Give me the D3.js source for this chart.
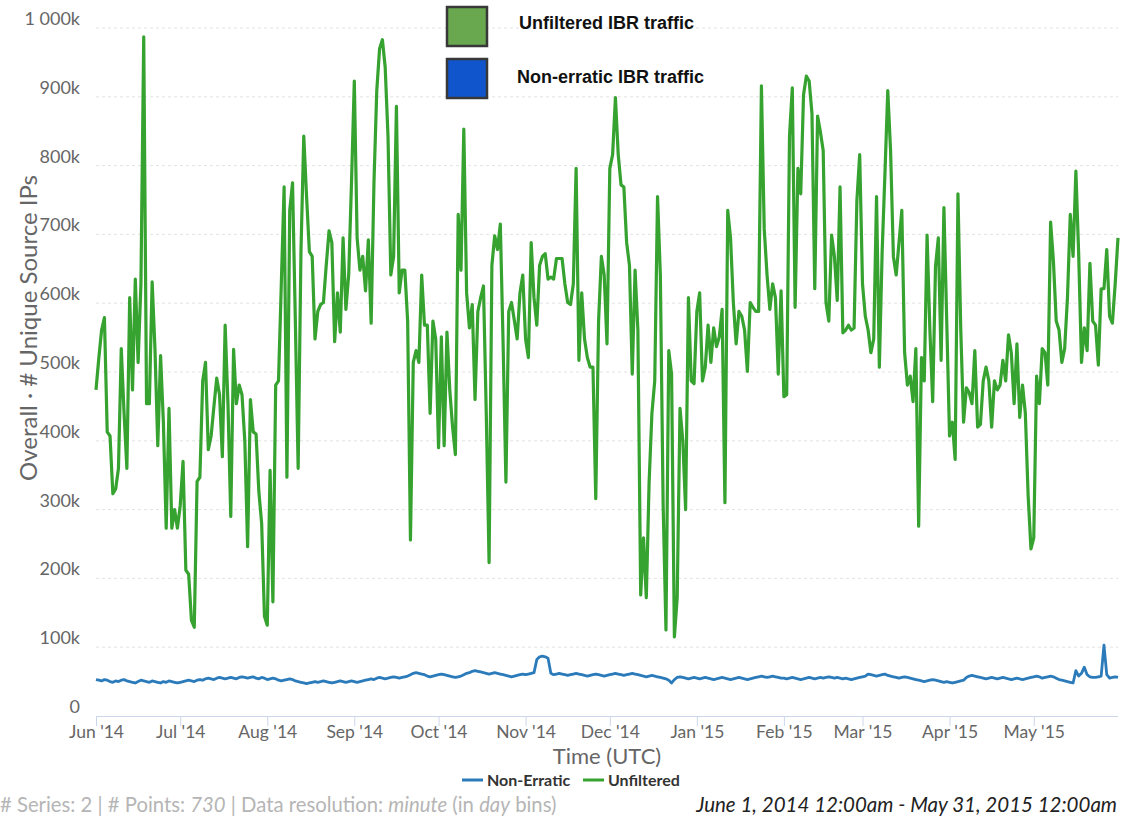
<!DOCTYPE html>
<html>
<head>
<meta charset="utf-8">
<script src="https://cdn.jsdelivr.net/npm/d3@7/dist/d3.min.js"></script>
<style>
body { margin: 0; background: #fff; }
svg { font-family: Lato, "Open Sans", sans-serif; }
</style>
</head>
<body>
<div class="graph"></div>
<script>
var startDate = new Date(Date.UTC(2014, 5, 1)),
    endDate = new Date(Date.UTC(2015, 4, 31));

var yTicks = [0, 100, 200, 300, 400, 500, 600, 700, 800, 900, 1000];

var seriesNames = ["Non-Erratic", "Unfiltered"];
var boxLabels = ["Unfiltered IBR traffic", "Non-erratic IBR traffic"];

// daily unique source IPs, in thousands (Unfiltered)
var unfilteredK = [
    474,520,561,579,413,407,323,330,360,534,
    440,360,608,474,635,514,628,987,454,454,
    631,534,393,524,427,273,447,273,300,273,
    306,370,212,206,139,129,341,347,487,514,
    387,407,450,491,467,377,568,454,290,533,
    454,481,467,400,246,460,413,410,326,280,
    145,132,357,166,481,487,628,769,347,735,
    775,574,360,675,843,755,675,668,548,588,
    598,601,655,705,688,544,615,558,695,591,
    641,775,923,695,648,668,618,692,571,775,
    909,970,983,943,843,641,668,886,615,648,
    648,574,256,514,531,514,641,568,568,440,
    574,548,390,551,393,558,474,420,380,729,
    648,853,615,564,598,460,588,608,625,440,
    223,655,698,678,715,541,340,588,601,575,
    548,615,641,548,521,688,608,568,655,668,
    672,635,638,635,665,665,665,628,601,598,
    628,796,517,615,548,521,507,507,316,574,
    668,641,541,796,816,899,816,772,769,688,
    655,497,648,561,176,259,172,340,440,487,
    755,641,306,125,531,497,115,172,447,400,
    300,608,487,483,588,615,487,507,568,514,
    564,537,551,591,310,735,695,601,541,588,
    581,561,501,601,594,588,588,916,708,641,
    591,628,608,497,618,464,467,843,913,594,
    796,759,903,930,923,876,621,872,849,822,
    601,574,699,668,604,769,557,561,568,561,
    564,749,816,628,581,561,528,548,755,507,
    675,789,909,822,668,641,688,735,528,481,
    494,457,534,276,521,487,699,561,457,653,
    695,517,739,574,407,427,373,759,561,427,
    477,470,454,531,420,424,487,507,487,420,
    487,474,481,517,487,554,528,454,541,434,
    481,440,320,243,259,494,454,534,528,481,
    718,661,574,561,514,534,608,729,668,792,
    671,514,564,531,658,574,568,510,621,621,
    678,581,571,628,695
];

// daily unique source IPs, in thousands (Non-Erratic)
var nonErraticK = [
    // Jun
    53,52,51,53,52,50,49,51,50,52,53,51,50,49,48,50,52,51,50,49,51,50,49,48,50,49,51,50,49,48,
    // Jul
    49,50,51,52,51,50,52,53,52,54,55,54,53,55,56,55,54,55,56,55,54,56,57,56,55,56,57,55,54,56,55,
    // Aug
    53,54,55,54,52,51,52,53,54,53,51,50,49,48,47,48,49,50,49,50,51,50,49,48,49,50,51,50,49,50,51,
    // Sep
    50,49,50,51,52,53,54,53,55,56,55,54,55,56,57,56,55,56,57,58,60,62,63,62,61,60,58,57,58,59,
    // Oct
    60,61,60,59,58,57,56,57,58,60,62,63,65,66,65,64,63,62,61,62,63,62,61,60,59,58,57,58,59,60,61,
    // Nov
    60,61,62,63,82,86,87,86,84,62,60,61,62,61,60,59,60,61,62,61,60,59,58,59,60,61,60,59,58,59,
    // Dec
    60,61,62,61,60,59,60,61,62,61,60,59,58,57,58,59,58,57,56,55,54,52,48,53,56,57,56,55,54,55,56,
    // Jan
    55,54,55,56,55,54,53,54,55,56,55,54,53,54,55,56,55,54,53,54,55,56,57,58,57,56,57,58,57,56,55,
    // Feb
    55,54,55,56,55,54,53,54,55,56,55,54,55,56,55,56,57,56,55,56,55,54,55,54,53,54,55,56,
    // Mar
    57,58,61,60,59,58,59,60,61,59,58,57,56,55,56,57,56,55,54,53,52,51,50,51,52,53,52,51,50,49,50,
    // Apr
    49,48,49,50,51,52,56,58,59,58,57,56,55,54,55,56,55,54,55,56,55,54,53,54,55,54,53,54,55,56,
    // May
    57,58,57,55,56,57,58,57,55,53,52,51,50,49,48,66,58,62,71,60,57,56,56,57,58,103,60,55,56,57,56
];

var width = 1123,
    height = 820;

var plot = { left: 96, right: 1118, top: 28, bottom: 716 };

var days = d3.utcDay.range(startDate, d3.utcDay.offset(endDate, 1));

var svg = d3.select('.graph').append("svg")
    .attr("width", width)
    .attr("height", height);

var x = d3.scaleUtc()
    .domain([startDate, endDate])
    .range([plot.left, plot.right]);

var y = d3.scaleLinear()
    .domain([0, 1000])
    .range([plot.bottom, plot.top]);

///////////////////////////////////////////////////////////////////////////
//////////////////////////////// GRID + AXES //////////////////////////////
///////////////////////////////////////////////////////////////////////////

svg.append("g")
    .attr("class", "grid")
    .selectAll("line")
    .data(yTicks.filter(function(d) { return d > 0; }))
    .enter().append("line")
    .attr("x1", plot.left)
    .attr("x2", plot.right)
    .attr("y1", function(d) { return y(d); })
    .attr("y2", function(d) { return y(d); })
    .attr("stroke", "#e3e3e3")
    .attr("stroke-width", 1)
    .attr("stroke-dasharray", "3,3");

var yFormat = function(d) {
    if (d === 0) return "0";
    return d3.format(",")(d).replace(",", "\u00a0") + "k";
};

svg.append("g")
    .attr("class", "y-labels")
    .selectAll("text")
    .data(yTicks)
    .enter().append("text")
    .attr("x", 80)
    .attr("y", function(d) { return y(d) - 3; })
    .attr("text-anchor", "end")
    .attr("fill", "#666")
    .style("font-size", "18px")
    .text(yFormat);

var xAxis = d3.axisBottom(x)
    .tickValues(d3.utcMonth.range(startDate, endDate))
    .tickFormat(d3.utcFormat("%b '%y"))
    .tickSize(10)
    .tickPadding(0);

var gx = svg.append("g")
    .attr("class", "x-axis")
    .attr("transform", "translate(0," + plot.bottom + ")")
    .call(xAxis);

gx.select(".domain")
    .attr("d", "M" + plot.left + ",0.5H" + plot.right)
    .attr("stroke", "#ccd6eb");
gx.selectAll(".tick line").attr("stroke", "#ccd6eb");
gx.selectAll(".tick text")
    .attr("fill", "#666")
    .style("font-size", "17.5px")
    .style("font-family", "Lato, sans-serif");

svg.append("text")
    .attr("transform", "translate(29,328) rotate(-90)")
    .attr("dy", "0.35em")
    .attr("text-anchor", "middle")
    .attr("fill", "#666")
    .style("font-size", "24px")
    .text("Overall \u00b7 # Unique Source IPs");

svg.append("text")
    .attr("x", (plot.left + plot.right) / 2)
    .attr("y", 764)
    .attr("text-anchor", "middle")
    .attr("fill", "#666")
    .style("font-size", "22px")
    .text("Time (UTC)");

///////////////////////////////////////////////////////////////////////////
/////////////////////////////////// LINES /////////////////////////////////
///////////////////////////////////////////////////////////////////////////

var line = d3.line()
    .x(function(d) { return x(d.date); })
    .y(function(d) { return y(d.value); });

var toPoints = function(values) {
    return values.map(function(v, i) {
        return { date: days[i], value: v };
    });
};

svg.append("path")
    .datum(toPoints(unfilteredK))
    .attr("fill", "none")
    .attr("stroke", "#36a22f")
    .attr("stroke-width", 3.2)
    .attr("stroke-linejoin", "round")
    .attr("d", line);

svg.append("path")
    .datum(toPoints(nonErraticK))
    .attr("fill", "none")
    .attr("stroke", "#2b7bba")
    .attr("stroke-width", 2.8)
    .attr("stroke-linejoin", "round")
    .attr("d", line);

///////////////////////////////////////////////////////////////////////////
/////////////////////////////////// LEGENDS ///////////////////////////////
///////////////////////////////////////////////////////////////////////////

var legendColors = ["#2b7bba", "#36a22f"];
var legendX = [462, 583];

var legend = svg.append("g").attr("class", "legend");
seriesNames.forEach(function(name, i) {
    legend.append("line")
        .attr("x1", legendX[i])
        .attr("x2", legendX[i] + 21)
        .attr("y1", 780)
        .attr("y2", 780)
        .attr("stroke", legendColors[i])
        .attr("stroke-width", 3);
    legend.append("text")
        .attr("x", legendX[i] + 25)
        .attr("y", 786)
        .attr("fill", "#333")
        .style("font-size", "16px")
        .style("font-weight", "bold")
        .text(name);
});

var boxColors = ["#6aa84f", "#1155cc"];
var boxes = svg.append("g").attr("class", "box-legend");
boxLabels.forEach(function(name, i) {
    boxes.append("rect")
        .attr("x", 447)
        .attr("y", 7 + i * 52)
        .attr("width", 40)
        .attr("height", 39)
        .attr("fill", boxColors[i])
        .attr("stroke", "#383838")
        .attr("stroke-width", 2.5);
    boxes.append("text")
        .attr("x", 519 - i * 2)
        .attr("y", 29 + i * 54)
        .attr("fill", "#111")
        .style("font-family", "'Liberation Sans', Arial, sans-serif")
        .style("font-size", "18px")
        .style("font-weight", "bold")
        .text(name);
});

///////////////////////////////////////////////////////////////////////////
/////////////////////////////////// FOOTER ////////////////////////////////
///////////////////////////////////////////////////////////////////////////

var footer = svg.append("text")
    .attr("x", 0)
    .attr("y", 812)
    .attr("fill", "#b5b5b5")
    .style("font-size", "20.3px");
footer.append("tspan").text("# Series: 2 | # Points: ");
footer.append("tspan").style("font-style", "italic").text("730");
footer.append("tspan").text(" | Data resolution: ");
footer.append("tspan").style("font-style", "italic").text("minute");
footer.append("tspan").text(" (in ");
footer.append("tspan").style("font-style", "italic").text("day");
footer.append("tspan").text(" bins)");

svg.append("text")
    .attr("x", 1117)
    .attr("y", 812)
    .attr("text-anchor", "end")
    .attr("fill", "#222")
    .style("font-size", "20.5px")
    .style("font-style", "italic")
    .text("June 1, 2014 12:00am - May 31, 2015 12:00am");
</script>
</body>
</html>
